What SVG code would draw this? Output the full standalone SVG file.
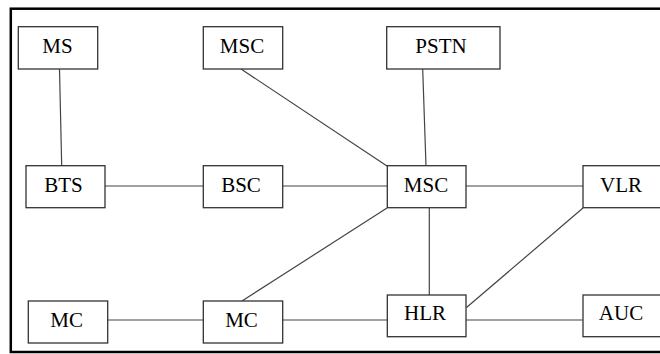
<svg xmlns="http://www.w3.org/2000/svg" width="660" height="354" viewBox="0 0 660 354">
<style>
.frame{fill:none;stroke:#000;stroke-width:2.5}
.box{fill:#fff;stroke:#333;stroke-width:1.3}
.lbl{font-family:"Liberation Serif","Times New Roman",serif;font-size:21px;fill:#000;text-anchor:middle}
.conn line{stroke:#444;stroke-width:1.2}
</style>
<rect width="660" height="354" fill="#fff"/>
<rect class="frame" x="10.8" y="8.7" width="700" height="343.3"/>
<g id="connectors" class="conn">
<line x1="59.5" y1="69" x2="61.7" y2="166"/>
<line x1="241" y1="69" x2="387" y2="166"/>
<line x1="422.7" y1="69" x2="426" y2="166"/>
<line x1="105" y1="186" x2="203" y2="186"/>
<line x1="283" y1="186" x2="387" y2="186"/>
<line x1="466" y1="186" x2="583" y2="186"/>
<line x1="429.3" y1="208" x2="429.3" y2="295"/>
<line x1="387" y1="208" x2="242" y2="301"/>
<line x1="583" y1="208" x2="466.5" y2="307.5"/>
<line x1="108" y1="320" x2="203" y2="320"/>
<line x1="283" y1="320" x2="387" y2="320"/>
<line x1="466" y1="320" x2="583" y2="320"/>
</g>
<g id="ms"><rect class="box" x="18.3" y="26.7" width="79.4" height="42.3"/><text class="lbl" x="57.5" y="52.5">MS</text></g>
<g id="msc-top"><rect class="box" x="203.3" y="26.7" width="79.4" height="42.3"/><text class="lbl" x="242" y="52.5">MSC</text></g>
<g id="pstn"><rect class="box" x="386.7" y="26.7" width="113.3" height="42.3"/><text class="lbl" x="441" y="52.5">PSTN</text></g>
<g id="bts"><rect class="box" x="26" y="165.7" width="79" height="42"/><text class="lbl" x="63.5" y="191.5">BTS</text></g>
<g id="bsc"><rect class="box" x="203.3" y="165.7" width="79.4" height="42"/><text class="lbl" x="241" y="191.5">BSC</text></g>
<g id="msc"><rect class="box" x="387.3" y="165.7" width="78.7" height="42"/><text class="lbl" x="426" y="191.5">MSC</text></g>
<g id="vlr"><rect class="box" x="583" y="165.7" width="80" height="42"/><text class="lbl" x="621" y="191.5">VLR</text></g>
<g id="mc-left"><rect class="box" x="28.3" y="301" width="79.4" height="42"/><text class="lbl" x="66.7" y="326.7">MC</text></g>
<g id="mc"><rect class="box" x="203.3" y="301" width="79.4" height="42"/><text class="lbl" x="241.5" y="326.7">MC</text></g>
<g id="hlr"><rect class="box" x="387.3" y="295" width="78.7" height="41.7"/><text class="lbl" x="425" y="320.3">HLR</text></g>
<g id="auc"><rect class="box" x="583" y="295" width="80" height="41.7"/><text class="lbl" x="621" y="320.3">AUC</text></g>
</svg>
